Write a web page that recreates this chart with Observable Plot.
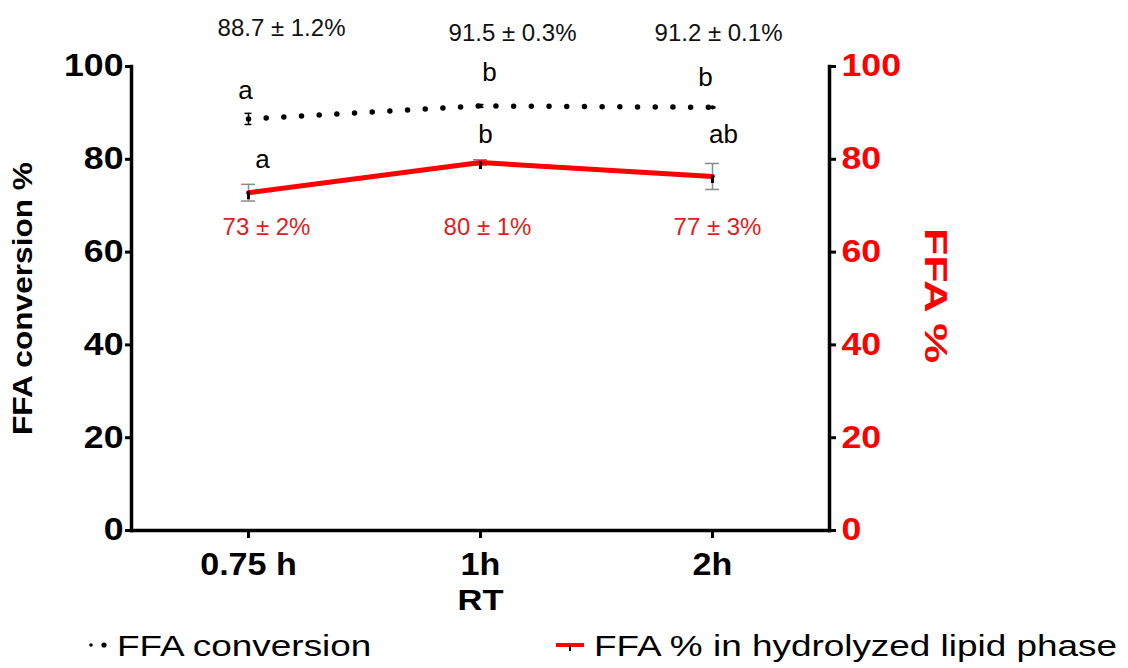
<!DOCTYPE html>
<html><head><meta charset="utf-8">
<script src="https://cdn.jsdelivr.net/npm/d3@7"></script>
<script src="https://cdn.jsdelivr.net/npm/@observablehq/plot@0.6"></script>
<style>
body{margin:0;background:#fff;}
#wrap{position:relative;width:1128px;height:668px;overflow:hidden;font-family:"Liberation Sans",Arial,sans-serif;background:#fff;}
#legend{position:absolute;left:0;top:620px;width:1128px;height:48px;}
.lg{position:absolute;top:11px;font-size:30px;line-height:30px;white-space:nowrap;transform-origin:left center;transform:scaleX(1.23);color:#000;}
</style></head><body>
<div id="wrap"><div id="chart"></div><div id="legend"></div></div>
<script>
// ---- data ----
const times = ["0.75 h", "1h", "2h"];
const conversion = [88.7, 91.5, 91.2];
const conversionSd = [1.2, 0.3, 0.1];
const ffa = [72.8, 79.3, 76.3];
const ffaSd = [1.8, 0.6, 2.8];
const conversionLabels = ["88.7 ± 1.2%", "91.5 ± 0.3%", "91.2 ± 0.1%"];
const ffaLabels = ["73 ± 2%", "80 ± 1%", "77 ± 3%"];
const conversionLetters = ["a", "b", "b"];
const ffaLetters = ["a", "b", "ab"];
const yTicks = [0, 20, 40, 60, 80, 100];
const legendLabels = ["FFA conversion", "FFA % in hydrolyzed lipid phase"];

// ---- styling ----
const FONT = "Liberation Sans, Arial, sans-serif";
const RED = "#ff0000";
const RED_TXT = "#e31b23";
const GREY = "#8a8a8a";

const data = times.map((t, i) => ({
  t, conv: conversion[i], convSd: conversionSd[i], ffa: ffa[i], ffaSd: ffaSd[i],
  cl: conversionLabels[i], fl: ffaLabels[i], cL: conversionLetters[i], fL: ffaLetters[i]
}));

// label nudges (px)
const topNudge = [[33, -38], [32, -33], [6, -33]];
const convLetterNudge = [[-3, -28], [9, -33], [-7, -30]];
const ffaLetterNudge = [[14, -33], [5, -28], [11, -42]];
const ffaLabelNudge = [[18, 161], [7, 161], [5, 161]];

const annotations = [];
data.forEach((d, i) => {
  annotations.push(Plot.text([d], {x: "t", text: "cl", frameAnchor: "top", lineAnchor: "middle", dx: topNudge[i][0], dy: topNudge[i][1], fontSize: 24, fontWeight: "normal", fill: "#111"}));
  annotations.push(Plot.text([d], {x: "t", y: "conv", text: "cL", lineAnchor: "middle", dx: convLetterNudge[i][0], dy: convLetterNudge[i][1], fontSize: 26, fontWeight: "normal", fill: "#000"}));
  annotations.push(Plot.text([d], {x: "t", y: "ffa", text: "fL", lineAnchor: "middle", dx: ffaLetterNudge[i][0], dy: ffaLetterNudge[i][1], fontSize: 26, fontWeight: "normal", fill: "#000"}));
  annotations.push(Plot.text([d], {x: "t", text: "fl", frameAnchor: "top", lineAnchor: "middle", dx: ffaLabelNudge[i][0], dy: ffaLabelNudge[i][1], fontSize: 24, fontWeight: "normal", fill: RED_TXT}));
});

const chart = Plot.plot({
  width: 1128,
  height: 620,
  marginLeft: 131,
  marginRight: 299,
  marginTop: 66,
  marginBottom: 90,
  style: {fontFamily: FONT, fontWeight: "bold", color: "#000", background: "#fff", overflow: "visible"},
  x: {type: "point", domain: times, padding: 0.5, axis: null},
  y: {domain: [0, 100], axis: null},
  marks: [
    // axis lines
    Plot.frame({anchor: "left", stroke: "#000", strokeWidth: 3.5, strokeLinecap: "square"}),
    Plot.frame({anchor: "right", stroke: "#000", strokeWidth: 3.5, strokeLinecap: "square"}),
    Plot.frame({anchor: "bottom", stroke: "#000", strokeWidth: 3.5, strokeLinecap: "square"}),
    // left y axis
    Plot.axisY(yTicks, {anchor: "left", tickSize: 6, tickPadding: 2, strokeWidth: 3, fontSize: 31, fontWeight: "bold", label: null, color: "#000"}),
    // right y axis: black ticks, red labels
    Plot.axisY(yTicks, {anchor: "right", tickSize: 6, tickPadding: 2, strokeWidth: 3, tickFormat: () => "", label: null, color: "#000"}),
    Plot.axisY(yTicks, {anchor: "right", tickSize: 0, tickPadding: 12, fontSize: 31, fontWeight: "bold", label: null, color: RED}),
    // x axis
    Plot.axisX({anchor: "bottom", tickSize: 8, tickPadding: 14, strokeWidth: 3, fontSize: 31, fontWeight: "bold", label: null, color: "#000"}),
    // axis titles
    Plot.text(["FFA conversion %"], {frameAnchor: "left", textAnchor: "middle", lineAnchor: "middle", dx: -108, rotate: -90, fontSize: 28, fontWeight: "bold", fill: "#000", ariaDescription: "stretch-ytitle"}),
    Plot.text(["FFA %"], {frameAnchor: "right", textAnchor: "middle", lineAnchor: "middle", dx: 106, dy: -3, rotate: 90, fontSize: 32, fontWeight: "bold", fill: RED, ariaDescription: "stretch-y2title"}),
    Plot.text(["RT"], {frameAnchor: "bottom", textAnchor: "middle", lineAnchor: "middle", dy: 70, fontSize: 30, fontWeight: "bold", fill: "#000", ariaDescription: "stretch-xtitle"}),
    // FFA % series: error bars
    Plot.ruleX(data, {x: "t", y1: d => d.ffa - d.ffaSd, y2: d => d.ffa + d.ffaSd, stroke: GREY, strokeWidth: 1.5}),
    Plot.ruleY(data, {x1: "t", x2: "t", y: d => d.ffa - d.ffaSd, insetLeft: -7, insetRight: -7, stroke: GREY, strokeWidth: 1.5}),
    Plot.ruleY(data, {x1: "t", x2: "t", y: d => d.ffa + d.ffaSd, insetLeft: -7, insetRight: -7, stroke: GREY, strokeWidth: 1.5}),
    Plot.line(data, {x: "t", y: "ffa", stroke: RED, strokeWidth: 5}),
    Plot.ruleX(data, {x: "t", y1: "ffa", y2: "ffa", insetTop: -1, insetBottom: -7, stroke: "#000", strokeWidth: 3}),
    // FFA conversion series
    Plot.ruleX(data, {x: "t", y1: d => d.conv - d.convSd, y2: d => d.conv + d.convSd, stroke: "#000", strokeWidth: 1.5}),
    Plot.ruleY(data, {x1: "t", x2: "t", y: d => d.conv - d.convSd, insetLeft: -3.5, insetRight: -3.5, stroke: "#000", strokeWidth: 1.5}),
    Plot.ruleY(data, {x1: "t", x2: "t", y: d => d.conv + d.convSd, insetLeft: -3.5, insetRight: -3.5, stroke: "#000", strokeWidth: 1.5}),
    Plot.line(data, {x: "t", y: "conv", stroke: "#000", strokeWidth: 5.5, strokeDasharray: "0 17.7", strokeLinecap: "round"}),
    Plot.dot(data, {x: "t", y: "conv", r: 2.2, fill: "#000"}),
    ...annotations
  ]
});

function stretch(root, name, sx) {
  const sel = `g[aria-label="${name}"] text, g[aria-description="${name}"] text, text[aria-label="${name}"]`;
  root.querySelectorAll(sel).forEach(t => {
    let tr = t.getAttribute("transform");
    if (!tr) {
      const x = +t.getAttribute("x") || 0, y = +t.getAttribute("y") || 0;
      t.removeAttribute("x"); t.removeAttribute("y");
      tr = `translate(${x},${y})`;
    }
    t.setAttribute("transform", tr + ` scale(${sx},1)`);
  });
}
stretch(chart, "y-axis tick label", 1.15);
stretch(chart, "x-axis tick label", 1.1);
stretch(chart, "stretch-ytitle", 1.13);
stretch(chart, "stretch-y2title", 1.4);
stretch(chart, "stretch-xtitle", 1.15);
document.getElementById("chart").appendChild(chart);

// legend
const lg = document.getElementById("legend");
lg.innerHTML = `<svg width="1128" height="48" style="position:absolute;left:0;top:0">
  <circle cx="91" cy="25" r="1.8" fill="#000"/>
  <circle cx="104" cy="25" r="2.6" fill="#000"/>
  <line x1="556" x2="584" y1="25" y2="25" stroke="${RED}" stroke-width="4"/>
  <line x1="570" x2="570" y1="25" y2="31" stroke="#000" stroke-width="2"/>
</svg>`;
[[117, legendLabels[0]], [594, legendLabels[1]]].forEach(([left, txt]) => {
  const s = document.createElement("span");
  s.className = "lg";
  s.style.left = left + "px";
  s.textContent = txt;
  lg.appendChild(s);
});
</script>
</body></html>
